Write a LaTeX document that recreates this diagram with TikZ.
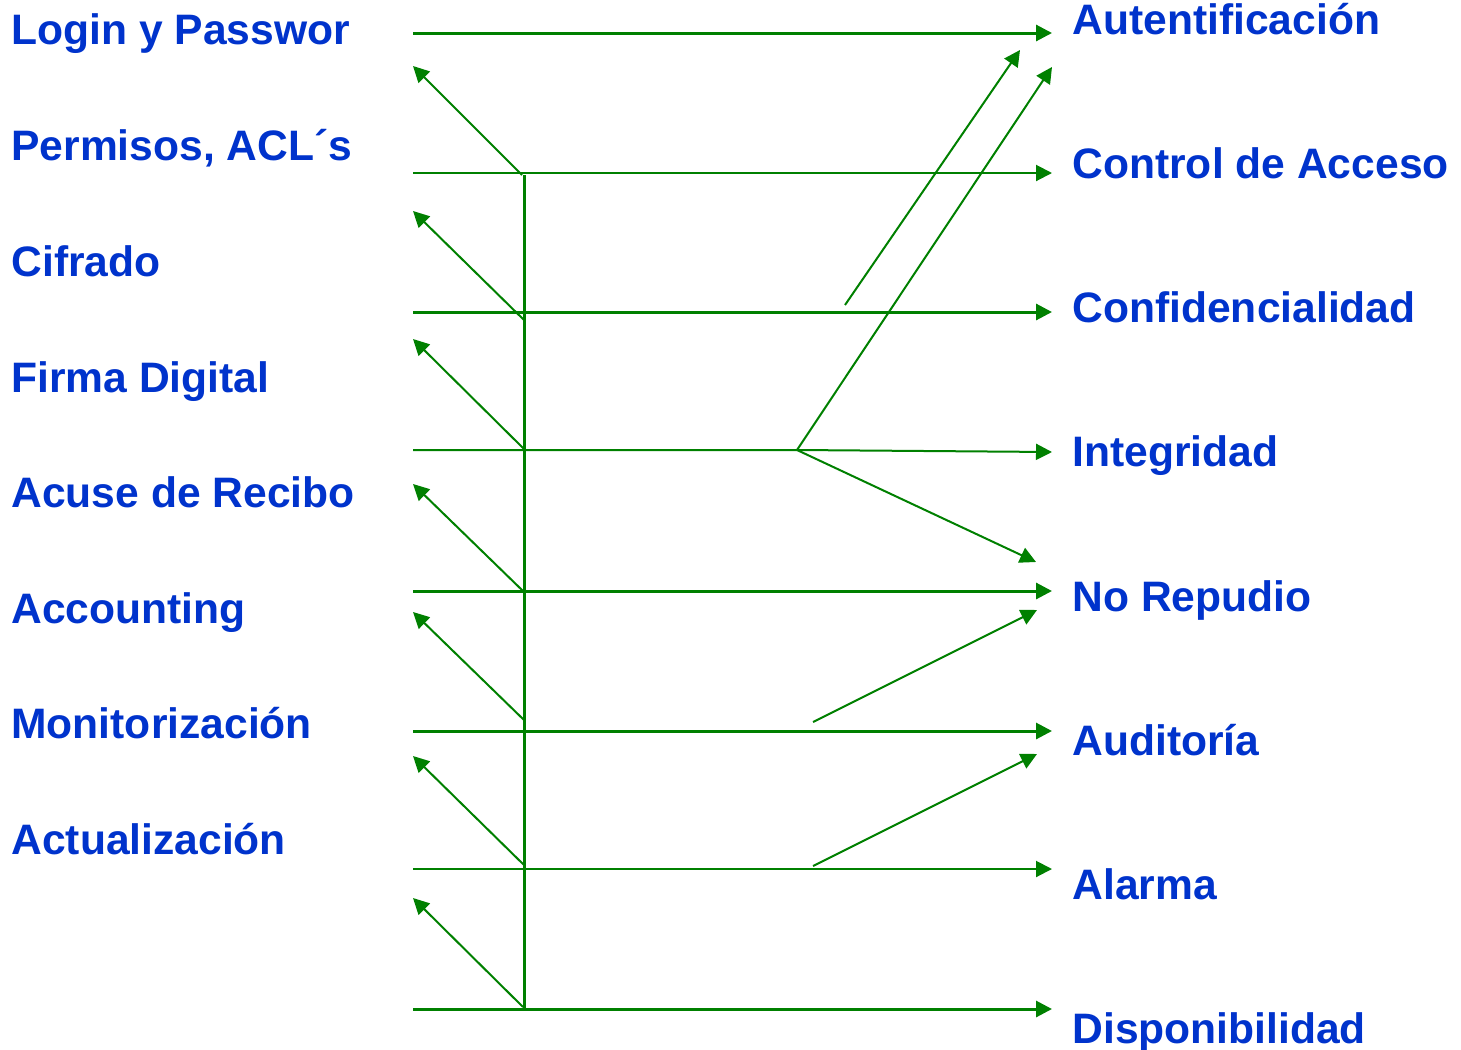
\documentclass[tikz,border=0pt]{standalone}
\usepackage{fontspec}
\setmainfont{Liberation Sans}
\usetikzlibrary{arrows.meta}
\definecolor{linegreen}{RGB}{0,128,0}
\definecolor{labelblue}{RGB}{0,51,204}
\begin{document}
\begin{tikzpicture}[x=0.5pt,y=-0.5pt,
  lbl/.style={anchor=base west, inner sep=0pt, text=labelblue,
              font=\fontsize{21.3pt}{25pt}\selectfont\bfseries},
  wire/.style={draw=linegreen, line width=1.5pt},
  thinwire/.style={draw=linegreen, line width=1pt},
  tip/.style={-{Triangle[length=8pt,width=8pt]}},
]
\useasboundingbox (0,0) rectangle (1461,1049);

% mechanisms (left column)
\node[lbl] (m1) at (11,44)  {Login y Passwor};
\node[lbl] (m2) at (11,160) {Permisos, ACL´s};
\node[lbl] (m3) at (11,276) {Cifrado};
\node[lbl] (m4) at (11,392) {Firma Digital};
\node[lbl] (m5) at (11,507) {Acuse de Recibo};
\node[lbl] (m6) at (11,623) {Accounting};
\node[lbl] (m7) at (11,738) {Monitorización};
\node[lbl] (m8) at (11,854) {Actualización};

% services (right column)
\node[lbl] (s1) at (1072,34)   {Autentificación};
\node[lbl] (s2) at (1072,178)  {Control de Acceso};
\node[lbl] (s3) at (1072,322)  {Confidencialidad};
\node[lbl] (s4) at (1072,466)  {Integridad};
\node[lbl] (s5) at (1072,611)  {No Repudio};
\node[lbl] (s6) at (1072,755)  {Auditoría};
\node[lbl] (s7) at (1072,899)  {Alarma};
\node[lbl] (s8) at (1072,1043) {Disponibilidad};

% horizontal rows: left ends and arrow ends
\coordinate (h1a) at (413,33);   \coordinate (h1b) at (1052,33);
\coordinate (h2a) at (413,173);  \coordinate (h2b) at (1052,173);
\coordinate (h3a) at (413,312);  \coordinate (h3b) at (1052,312);
\coordinate (h4a) at (413,450);  \coordinate (h4b) at (1052,452);
\coordinate (h5a) at (413,591);  \coordinate (h5b) at (1052,591);
\coordinate (h6a) at (413,731);  \coordinate (h6b) at (1052,731);
\coordinate (h7a) at (413,869);  \coordinate (h7b) at (1052,869);
\coordinate (h8a) at (413,1009); \coordinate (h8b) at (1052,1009);

% vertical spine
\coordinate (vtop) at (524,175);
\coordinate (vbot) at (524,1009);

% spine branch points and left tips
\coordinate (b1) at (522,175);  \coordinate (t1) at (413,66);
\coordinate (b2) at (524,320);  \coordinate (t2) at (413,211);
\coordinate (b3) at (524,449);  \coordinate (t3) at (413,339);
\coordinate (b4) at (523,591);  \coordinate (t4) at (413,484);
\coordinate (b5) at (524,720);  \coordinate (t5) at (413,612);
\coordinate (b6) at (524,865);  \coordinate (t6) at (413,756);
\coordinate (b7) at (523,1007); \coordinate (t7) at (413,898);

% right-hand branches
\coordinate (j)  at (797,450);
\coordinate (r1) at (845,305);  \coordinate (q1) at (1020,50);
\coordinate (q2) at (1052,67);
\coordinate (q3) at (1036,562);
\coordinate (r4) at (813,722);  \coordinate (q4) at (1037,610);
\coordinate (r5) at (813,866);  \coordinate (q5) at (1037,754);

% rows
\draw[wire, tip]     (h1a) -- (h1b);
\draw[thinwire, tip] (h2a) -- (h2b);
\draw[wire, tip]     (h3a) -- (h3b);
\draw[thinwire, tip] (h4a) -- (j) -- (h4b);
\draw[wire, tip]     (h5a) -- (h5b);
\draw[wire, tip]     (h6a) -- (h6b);
\draw[thinwire, tip] (h7a) -- (h7b);
\draw[wire, tip]     (h8a) -- (h8b);

% spine
\draw[wire] (vtop) -- (vbot);

% arrows back to the mechanisms
\draw[thinwire, tip] (b1) -- (t1);
\draw[thinwire, tip] (b2) -- (t2);
\draw[thinwire, tip] (b3) -- (t3);
\draw[thinwire, tip] (b4) -- (t4);
\draw[thinwire, tip] (b5) -- (t5);
\draw[thinwire, tip] (b6) -- (t6);
\draw[thinwire, tip] (b7) -- (t7);

% cross links to the services
\draw[thinwire, tip] (r1) -- (q1);
\draw[thinwire, tip] (j) -- (q2);
\draw[thinwire, tip] (j) -- (q3);
\draw[thinwire, tip] (r4) -- (q4);
\draw[thinwire, tip] (r5) -- (q5);
\end{tikzpicture}
\end{document}
